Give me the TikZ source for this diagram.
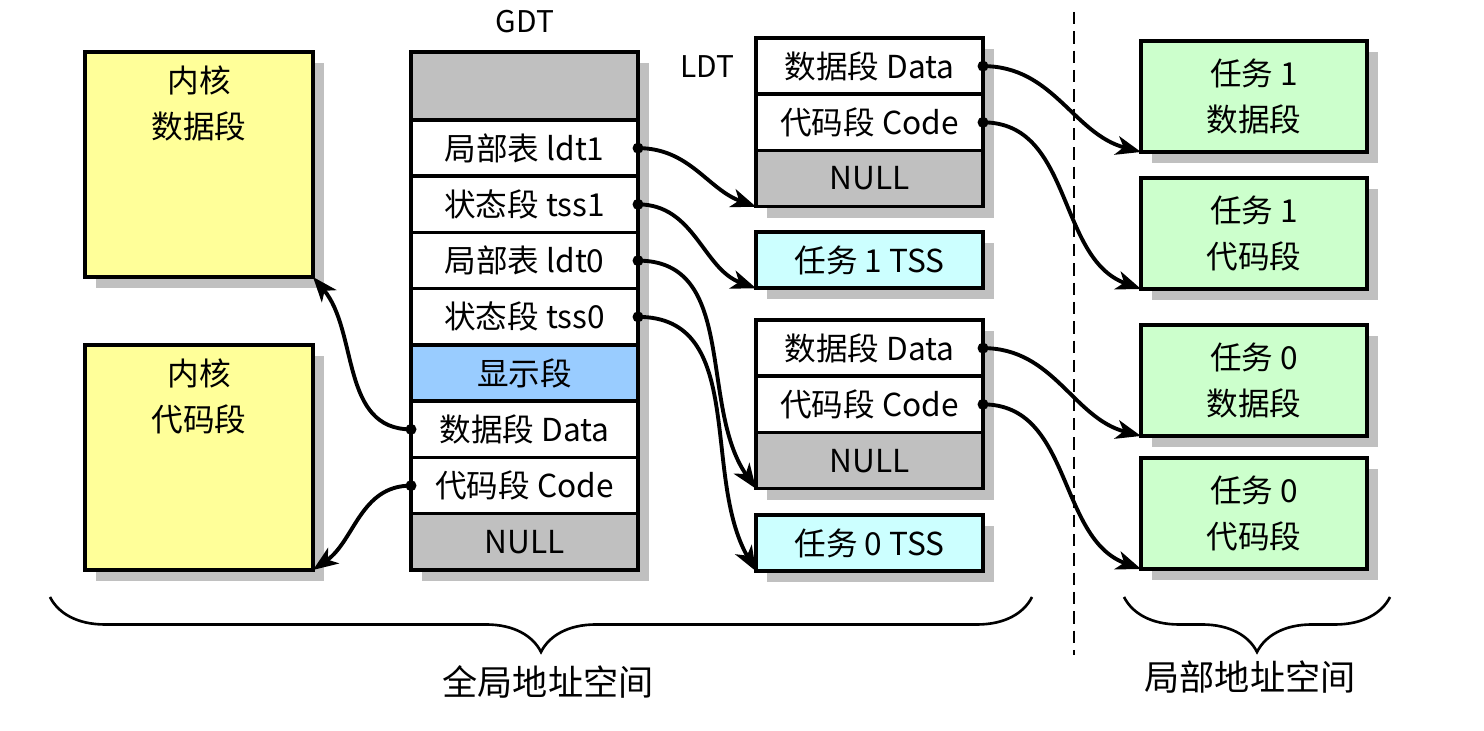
\documentclass[tikz,border=0pt]{standalone}
\usepackage{fontspec}
\setmainfont{Noto Sans CJK SC}
\usetikzlibrary{positioning,shadows,arrows.meta,decorations.pathreplacing}

\definecolor{kernelyellow}{HTML}{FFFF99}
\definecolor{cellgray}{HTML}{C0C0C0}
\definecolor{videoblue}{HTML}{99CCFF}
\definecolor{tsscyan}{HTML}{CCFFFF}
\definecolor{taskgreen}{HTML}{CCFFCC}

\tikzset{
  shadowed/.style={general shadow={fill=cellgray, shadow xshift=0.22cm, shadow yshift=-0.22cm}},
  cell/.style={draw, line width=2pt, fill=white, minimum width=4.54cm, minimum height=1.125cm,
    inner sep=0pt, outer sep=0pt, font=\fontsize{18}{20}\selectfont, shadowed},
  bigbox/.style={draw, line width=2pt, minimum width=4.54cm, inner sep=0pt, outer sep=0pt,
    anchor=north west, shadowed},
  boxtext/.style={align=center, font=\fontsize{18}{26}\selectfont},
  link/.style={line width=2.2pt, -{Stealth[length=0.5cm, width=0.38cm, inset=0.14cm]}},
  tablename/.style={font=\fontsize{17}{20}\selectfont},
}

\begin{document}
\begin{tikzpicture}
  \useasboundingbox (0,0) rectangle (29.68,14.62);

  % kernel segments
  \node[bigbox, fill=kernelyellow, minimum width=4.56cm, minimum height=4.5cm] (kdata) at (1.7,13.58) {};
  \node[boxtext, below=0.16cm of kdata.north] (kdatatext) {内核\\数据段};
  \node[bigbox, fill=kernelyellow, minimum width=4.56cm, minimum height=4.5cm] (kcode) at (1.7,7.72) {};
  \node[boxtext, below=0.16cm of kcode.north] (kcodetext) {内核\\代码段};

  % GDT
  \node[tablename] (gdtname) at (10.5,14.18) {GDT};
  \node[cell, fill=cellgray, minimum height=1.36cm, anchor=north west] (gdttop) at (8.22,13.58) {};
  \node[cell, below=0pt of gdttop] (gdtldt1) {局部表 ldt1};
  \node[cell, below=0pt of gdtldt1] (gdttss1) {状态段 tss1};
  \node[cell, below=0pt of gdttss1] (gdtldt0) {局部表 ldt0};
  \node[cell, below=0pt of gdtldt0] (gdttss0) {状态段 tss0};
  \node[cell, fill=videoblue, below=0pt of gdttss0] (gdtvideo) {显示段};
  \node[cell, below=0pt of gdtvideo] (gdtdata) {数据段 Data};
  \node[cell, below=0pt of gdtdata] (gdtcode) {代码段 Code};
  \node[cell, fill=cellgray, below=0pt of gdtcode] (gdtnull) {NULL};

  % LDT of task 1 and its TSS
  \node[tablename] (ldtname) at (14.14,13.28) {LDT};
  \node[cell, anchor=north west] (ldt1data) at (15.12,13.86) {数据段 Data};
  \node[cell, below=0pt of ldt1data] (ldt1code) {代码段 Code};
  \node[cell, fill=cellgray, below=0pt of ldt1code] (ldt1null) {NULL};
  \node[cell, fill=tsscyan, anchor=north west] (tss1box) at (15.12,9.98) {任务 1 TSS};

  % LDT of task 0 and its TSS
  \node[cell, anchor=north west] (ldt0data) at (15.12,8.22) {数据段 Data};
  \node[cell, below=0pt of ldt0data] (ldt0code) {代码段 Code};
  \node[cell, fill=cellgray, below=0pt of ldt0code] (ldt0null) {NULL};
  \node[cell, fill=tsscyan, anchor=north west] (tss0box) at (15.12,4.32) {任务 0 TSS};

  % task segments
  \node[bigbox, fill=taskgreen, minimum width=4.52cm, minimum height=2.22cm, boxtext] (task1data) at (22.82,13.8) {任务 1\\数据段};
  \node[bigbox, fill=taskgreen, minimum width=4.52cm, minimum height=2.22cm, boxtext] (task1code) at (22.82,11.06) {任务 1\\代码段};
  \node[bigbox, fill=taskgreen, minimum width=4.52cm, minimum height=2.22cm, boxtext] (task0data) at (22.82,8.12) {任务 0\\数据段};
  \node[bigbox, fill=taskgreen, minimum width=4.52cm, minimum height=2.22cm, boxtext] (task0code) at (22.82,5.46) {任务 0\\代码段};

  % links
  \foreach \from/\to/\ang in {gdtldt1/ldt1null/160, gdttss1/tss1box/160, gdtldt0/ldt0null/125,
      gdttss0/tss0box/120, ldt1data/task1data/165, ldt1code/task1code/160,
      ldt0data/task0data/165, ldt0code/task0code/160} {
    \draw[link] (\from.east) to[out=0, in=\ang] (\to.south west);
    \fill (\from.east) circle (0.11);
  }
  \draw[link] (gdtdata.west) to[out=180, in=-50] (kdata.south east);
  \fill (gdtdata.west) circle (0.11);
  \draw[link] (gdtcode.west) to[out=180, in=35] (kcode.south east);
  \fill (gdtcode.west) circle (0.11);

  % address spaces
  \draw[line width=1pt, dash pattern=on 7pt off 4pt] (21.48,14.38) -- (21.48,1.52);
  \draw[line width=1.5pt, decorate, decoration={brace, mirror, amplitude=1.1cm}] (1.0,2.68) -- (20.64,2.68);
  \draw[line width=1.5pt, decorate, decoration={brace, mirror, amplitude=1.1cm}] (22.48,2.68) -- (27.8,2.68);
  \node[font=\fontsize{20}{24}\selectfont] (globalspace) at (10.96,0.98) {全局地址空间};
  \node[font=\fontsize{20}{24}\selectfont] (localspace) at (25.0,1.08) {局部地址空间};
\end{tikzpicture}
\end{document}
